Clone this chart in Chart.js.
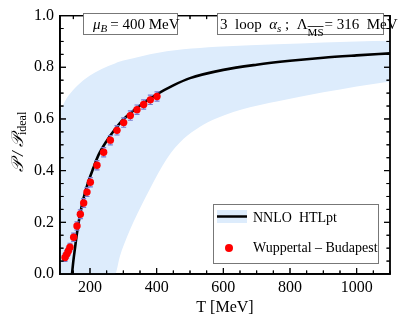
<!DOCTYPE html>
<html>
<head>
<meta charset="utf-8">
<script src="https://cdn.jsdelivr.net/npm/chart.js@4.4.0/dist/chart.umd.min.js"></script>
<style>
	html, body { margin: 0; padding: 0; background: #fff; }
	#wrap { width: 409px; height: 329px; }
</style>
</head>
<body>
<div id="wrap"><canvas id="c" width="409" height="329"></canvas></div>
<script>
// NNLO HTLpt central curve
const curveT = [146, 150, 155, 160, 170, 180, 195, 210, 225, 250, 275, 300, 350, 400, 450, 500, 600, 700, 800, 900, 1000, 1100];
const curveP = [0, 0.05, 0.1, 0.15, 0.23, 0.29, 0.357, 0.41, 0.459, 0.515, 0.56, 0.598, 0.652, 0.695, 0.73, 0.758, 0.79, 0.81, 0.825, 0.837, 0.846, 0.854];

// uncertainty band
const bandT = [110, 130, 155, 185, 215, 255, 275, 290, 310, 330, 380, 430, 480, 530, 580, 680, 760, 900, 1000, 1100];
const bandHi = [0.63, 0.68, 0.72, 0.755, 0.78, 0.805, 0.815, 0.822, 0.829, 0.835, 0.85, 0.862, 0.87, 0.875, 0.879, 0.885, 0.889, 0.896, 0.9, 0.903];
const bandLo = [0, 0, 0, 0, 0, 0, 0, 0.07, 0.14, 0.2, 0.33, 0.445, 0.522, 0.57, 0.603, 0.645, 0.668, 0.703, 0.726, 0.745];

// Wuppertal-Budapest lattice points
const latT = [125, 130, 135, 140, 151, 161, 171, 181, 191, 201, 221, 241, 261, 281, 301, 321, 341, 361, 381, 401];
const latP = [0.064, 0.076, 0.089, 0.104, 0.142, 0.186, 0.231, 0.275, 0.317, 0.355, 0.421, 0.471, 0.518, 0.556, 0.586, 0.613, 0.636, 0.656, 0.674, 0.687];
const latErr = [0.015, 0.015, 0.015, 0.015, 0.016, 0.016, 0.017, 0.017, 0.017, 0.018, 0.018, 0.018, 0.018, 0.018, 0.018, 0.018, 0.018, 0.018, 0.018, 0.018];

const xTicks = [200, 400, 600, 800, 1000];

const serif = '"Liberation Serif", "DejaVu Serif", serif';
const bandColor = 'rgb(221,236,252)';

function pts(xs, ys) {
	return xs.map((x, i) => ({x: x, y: ys[i]}));
}

// frame + inward ticks on all four sides
function drawFrame(chart) {
	let ctx = chart.ctx;
	let a = chart.chartArea;
	let xs = chart.scales.x, ys = chart.scales.y;
	ctx.save();
	ctx.setTransform(1, 0, 0, 1, 0, 0);
	ctx.globalAlpha = 1;
	ctx.globalCompositeOperation = 'source-over';
	ctx.setLineDash([]);
	ctx.strokeStyle = '#000';
	ctx.lineWidth = 1.4;
	ctx.beginPath();
	ctx.rect(a.left, a.top, a.right - a.left, a.bottom - a.top);
	ctx.stroke();
	ctx.lineWidth = 1;
	ctx.beginPath();
	for (let t = 150; t <= 1100; t += 50) {
		let px = xs.getPixelForValue(t);
		let len = (t % 200 === 0) ? 6 : 3.5;
		ctx.moveTo(px, a.bottom); ctx.lineTo(px, a.bottom - len);
		ctx.moveTo(px, a.top); ctx.lineTo(px, a.top + len);
	}
	for (let k = 1; k < 20; k++) {
		let py = ys.getPixelForValue(k * 0.05);
		let len = (k % 4 === 0) ? 6 : 3.5;
		ctx.moveTo(a.left, py); ctx.lineTo(a.left + len, py);
		ctx.moveTo(a.right, py); ctx.lineTo(a.right - len, py);
	}
	ctx.stroke();
	ctx.restore();
}

// the two parameter boxes at the top
function drawBoxes(ctx) {
	ctx.save();
	ctx.setTransform(1, 0, 0, 1, 0, 0);
	ctx.fillStyle = '#fff';
	ctx.strokeStyle = '#777';
	ctx.lineWidth = 1;
	ctx.fillRect(83, 13, 94, 21);
	ctx.strokeRect(83.5, 13.5, 94, 21);
	ctx.fillRect(217, 13, 166, 21);
	ctx.strokeRect(217.5, 13.5, 166, 21);

	ctx.fillStyle = '#000';
	ctx.textBaseline = 'alphabetic';
	ctx.textAlign = 'left';
	let x = 93;
	ctx.font = 'italic 15px ' + serif;
	ctx.fillText('μ', x, 29); x += ctx.measureText('μ').width;
	ctx.font = 'italic 11px ' + serif;
	ctx.fillText('B', x, 32); x += ctx.measureText('B').width + 3;
	ctx.font = '15px ' + serif;
	ctx.fillText('= 400 MeV', x, 29);

	x = 220;
	ctx.font = '15px ' + serif;
	ctx.fillText('3  loop  ', x, 29); x += ctx.measureText('3  loop  ').width;
	ctx.font = 'italic 15px ' + serif;
	ctx.fillText('α', x, 29); x += ctx.measureText('α').width;
	ctx.font = 'italic 11px ' + serif;
	ctx.fillText('s', x, 32); x += ctx.measureText('s').width;
	ctx.font = '15px ' + serif;
	ctx.fillText(' ;  Λ', x, 29); x += ctx.measureText(' ;  Λ').width;
	ctx.font = '11px ' + serif;
	let msw = ctx.measureText('MS').width;
	ctx.fillText('MS', x, 36);
	ctx.strokeStyle = '#000';
	ctx.lineWidth = 0.8;
	ctx.beginPath();
	ctx.moveTo(x, 26.5); ctx.lineTo(x + msw, 26.5);
	ctx.stroke();
	x += msw + 1;
	ctx.font = '15px ' + serif;
	ctx.fillText('= 316  MeV', x, 29);
	ctx.restore();
}

// error bars under the lattice points (dataset 3)
const errorBars = {
	id: 'errorBars',
	beforeDatasetDraw(chart, args) {
		if (args.index !== 3) return;
		let ctx = chart.ctx;
		let xs = chart.scales.x, ys = chart.scales.y;
		ctx.save();
		ctx.strokeStyle = 'rgb(120,120,205)';
		ctx.lineWidth = 1.2;
		for (let i = 0; i < latT.length; i++) {
			let px = xs.getPixelForValue(latT[i]);
			let top = ys.getPixelForValue(latP[i] + latErr[i]);
			let bot = ys.getPixelForValue(latP[i] - latErr[i]);
			ctx.beginPath();
			ctx.moveTo(px, top); ctx.lineTo(px, bot);
			ctx.moveTo(px - 2.5, bot); ctx.lineTo(px + 2.5, bot);
			ctx.moveTo(px - 2.5, top); ctx.lineTo(px + 2.5, top);
			ctx.stroke();
		}
		ctx.restore();
	}
};

const frame = {
	id: 'frame',
	afterDatasetsDraw(chart) {
		drawFrame(chart);
	},
	afterDraw(chart) {
		let ctx = chart.ctx;
		let a = chart.chartArea;
		ctx.save();

		// legend
		ctx.fillStyle = '#fff';
		ctx.strokeStyle = '#777';
		ctx.lineWidth = 1;
		ctx.fillRect(213, 204, 165, 59);
		ctx.strokeRect(213.5, 204.5, 165, 59);
		ctx.fillStyle = bandColor;
		ctx.fillRect(217, 210, 30, 13);
		ctx.strokeStyle = '#000';
		ctx.lineWidth = 2.5;
		ctx.beginPath();
		ctx.moveTo(217, 216.5); ctx.lineTo(247, 216.5);
		ctx.stroke();
		ctx.fillStyle = 'red';
		ctx.beginPath();
		ctx.arc(229, 248, 4, 0, Math.PI * 2);
		ctx.fill();
		ctx.fillStyle = '#000';
		ctx.font = '14px ' + serif;
		ctx.textBaseline = 'middle';
		ctx.fillText('NNLO  HTLpt', 253, 218);
		ctx.fillText('Wuppertal – Budapest', 253, 248);

		// axis titles
		ctx.textAlign = 'center';
		ctx.font = '16px ' + serif;
		ctx.fillText('T [MeV]', (a.left + a.right) / 2, 308);

		ctx.translate(19, 142);
		ctx.rotate(-Math.PI / 2);
		ctx.textAlign = 'left';
		let f1 = 'italic 17px ' + serif, f2 = '12px ' + serif;
		ctx.font = f1;
		let w1 = ctx.measureText('𝒫 / 𝒫').width;
		ctx.font = f2;
		let w2 = ctx.measureText('ideal').width;
		let sx = -(w1 + w2) / 2;
		ctx.font = f1;
		ctx.fillText('𝒫 / 𝒫', sx, 0);
		ctx.font = f2;
		ctx.fillText('ideal', sx + w1, 4);
		ctx.restore();

		// frame last, then the boxes on top of the top ticks
		drawFrame(chart);
		drawBoxes(ctx);
	}
};

new Chart(document.getElementById('c'), {
	type: 'scatter',
	data: {
		datasets: [
			{
				data: pts(bandT, bandHi),
				showLine: true,
				borderWidth: 0,
				borderColor: 'rgba(0,0,0,0)',
				pointRadius: 0,
				backgroundColor: bandColor,
				fill: '+1',
				cubicInterpolationMode: 'monotone',
				order: 10
			},
			{
				data: pts(bandT, bandLo),
				showLine: true,
				borderWidth: 0,
				borderColor: 'rgba(0,0,0,0)',
				pointRadius: 0,
				fill: false,
				cubicInterpolationMode: 'monotone',
				order: 9
			},
			{
				data: pts(curveT, curveP),
				showLine: true,
				borderColor: '#000',
				borderWidth: 2.6,
				pointRadius: 0,
				fill: false,
				cubicInterpolationMode: 'monotone',
				order: 2
			},
			{
				data: pts(latT, latP),
				showLine: false,
				pointRadius: 3.7,
				pointBorderWidth: 0,
				backgroundColor: 'red',
				borderColor: 'red',
				order: 1
			}
		]
	},
	options: {
		responsive: false,
		animation: false,
		events: [],
		layout: {padding: {left: 0, top: 6.4, right: 19, bottom: 0}},
		plugins: {legend: {display: false}, tooltip: {enabled: false}},
		scales: {
			x: {
				type: 'linear',
				min: 110,
				max: 1100,
				grid: {display: false, drawTicks: false},
				border: {display: true, color: '#000', width: 1.4},
				afterBuildTicks: (s) => { s.ticks = xTicks.map(v => ({value: v})); },
				afterFit: (s) => { s.height = 55; },
				ticks: {
					color: '#000',
					padding: 4,
					maxRotation: 0,
					font: {family: serif, size: 16},
					callback: (v) => String(v)
				}
			},
			y: {
				min: 0,
				max: 1,
				grid: {display: false, drawTicks: false},
				border: {display: true, color: '#000', width: 1.4},
				afterFit: (s) => { s.width = 60; },
				ticks: {
					stepSize: 0.2,
					color: '#000',
					padding: 6,
					font: {family: serif, size: 16},
					callback: (v) => v.toFixed(1)
				}
			}
		}
	},
	plugins: [errorBars, frame]
});
</script>
</body>
</html>
